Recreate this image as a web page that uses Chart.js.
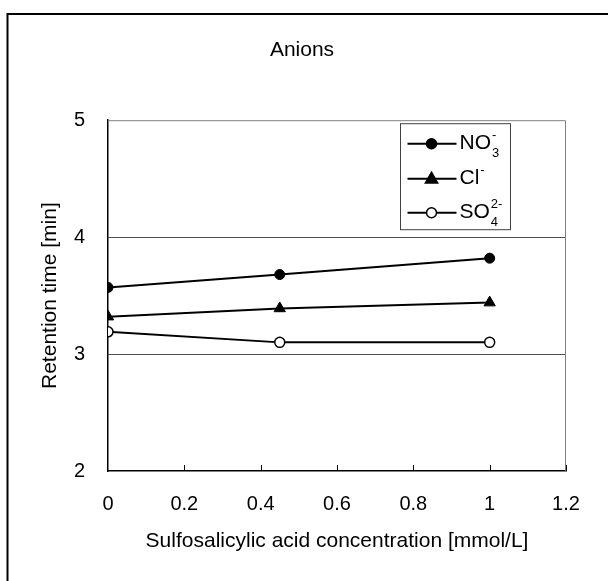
<!DOCTYPE html>
<html>
<head>
<meta charset="utf-8">
<script src="https://cdn.jsdelivr.net/npm/chart.js@4"></script>
<style>
  body { margin: 0; background: #fff; }
  #wrap { width: 608px; height: 581px; }
</style>
</head>
<body>
<div id="wrap"><canvas id="anions_chart" width="608" height="581"></canvas></div>
<script>
// data
const concentrations = [0, 0.45, 1];
const no3Values = [3.57, 3.68, 3.82];
const clValues = [3.32, 3.39, 3.44];
const so4Values = [3.19, 3.10, 3.10];

// legend text pieces: base, subscript, superscript
const legendBase = ['NO', 'Cl', 'SO'];
const legendSub = ['3', '', '4'];
const legendSup = ['-', '-', '2-'];

const FONT = 'Arial, "Liberation Sans", sans-serif';

function toPoints(values) {
    return concentrations.map((x, i) => ({x: x, y: values[i]}));
}

// outer frame, plot box and inner x ticks
const framePlugin = {
    id: 'frame',
    beforeDraw(chart) {
        const ctx = chart.ctx;
        ctx.save();
        ctx.fillStyle = '#fff';
        ctx.fillRect(0, 0, chart.width, chart.height);
        ctx.strokeStyle = '#000';
        ctx.lineWidth = 2;
        ctx.strokeRect(7.5, 14, 700, 700);
        ctx.restore();
    },
    beforeDatasetsDraw(chart) {
        const ctx = chart.ctx;
        const a = chart.chartArea;
        ctx.save();
        ctx.strokeStyle = '#808080';
        ctx.lineWidth = 1;
        ctx.beginPath();
        ctx.moveTo(a.left, a.top + 0.5);
        ctx.lineTo(a.right - 0.5, a.top + 0.5);
        ctx.lineTo(a.right - 0.5, a.bottom);
        ctx.stroke();
        // small ticks pointing into the plot
        const xs = chart.scales.x;
        ctx.strokeStyle = '#000';
        xs.ticks.forEach(t => {
            if (t.value === 0) return;
            const px = Math.round(xs.getPixelForValue(t.value)) + 0.5;
            ctx.beginPath();
            ctx.moveTo(px, a.bottom);
            ctx.lineTo(px, a.bottom - 6);
            ctx.stroke();
        });
        ctx.restore();
    }
};

function drawMarker(ctx, style, x, y, fill) {
    ctx.save();
    ctx.fillStyle = fill;
    ctx.strokeStyle = '#000';
    ctx.lineWidth = 1.5;
    ctx.beginPath();
    if (style === 'triangle') {
        const r = 6.5;
        ctx.moveTo(x, y - r);
        ctx.lineTo(x + r * 0.95, y + r * 0.65);
        ctx.lineTo(x - r * 0.95, y + r * 0.65);
        ctx.closePath();
    } else {
        ctx.arc(x, y, 5, 0, Math.PI * 2);
    }
    ctx.fill();
    ctx.stroke();
    ctx.restore();
}

// legend drawn by hand because of sub/superscripts
const legendPlugin = {
    id: 'chemLegend',
    afterDraw(chart) {
        const ctx = chart.ctx;
        const a = chart.chartArea;
        const bx = a.right - 165.5, by = a.top + 3.5, bw = 110, bh = 106;
        ctx.save();
        ctx.fillStyle = '#fff';
        ctx.fillRect(bx, by, bw, bh);
        ctx.strokeStyle = '#404040';
        ctx.lineWidth = 1;
        ctx.strokeRect(bx, by, bw, bh);
        const rows = [20, 55, 89];
        chart.data.datasets.forEach((ds, i) => {
            const y = by + rows[i];
            ctx.strokeStyle = '#000';
            ctx.lineWidth = 2;
            ctx.beginPath();
            ctx.moveTo(bx + 7, y);
            ctx.lineTo(bx + 56, y);
            ctx.stroke();
            drawMarker(ctx, ds.pointStyle, bx + 31, y, ds.pointBackgroundColor);
            let tx = bx + 59;
            ctx.fillStyle = '#000';
            ctx.textBaseline = 'middle';
            ctx.textAlign = 'left';
            ctx.font = '21px ' + FONT;
            ctx.fillText(legendBase[i], tx, y);
            tx += ctx.measureText(legendBase[i]).width + 1;
            ctx.font = '13px ' + FONT;
            if (legendSub[i]) ctx.fillText(legendSub[i], tx, y + 10);
            if (legendSup[i]) ctx.fillText(legendSup[i], tx, y - 8);
        });
        ctx.restore();
    }
};

const chart = new Chart(document.getElementById('anions_chart'), {
    type: 'line',
    data: {
        datasets: [{
            label: 'NO3-',
            data: toPoints(no3Values),
            borderColor: '#000',
            borderWidth: 2,
            pointStyle: 'circle',
            pointRadius: 5,
            pointBackgroundColor: '#000',
            pointBorderColor: '#000',
            pointBorderWidth: 1
        }, {
            label: 'Cl-',
            data: toPoints(clValues),
            borderColor: '#000',
            borderWidth: 2,
            pointStyle: 'triangle',
            pointRadius: 6.5,
            pointBackgroundColor: '#000',
            pointBorderColor: '#000',
            pointBorderWidth: 1
        }, {
            label: 'SO42-',
            data: toPoints(so4Values),
            borderColor: '#000',
            borderWidth: 2,
            pointStyle: 'circle',
            pointRadius: 5,
            pointBackgroundColor: '#fff',
            pointBorderColor: '#000',
            pointBorderWidth: 1.5
        }]
    },
    options: {
        responsive: false,
        animation: false,
        layout: {padding: {left: 38, top: 38, right: 42, bottom: 27}},
        plugins: {
            legend: {display: false},
            tooltip: {enabled: false},
            title: {
                display: true,
                text: 'Anions',
                color: '#000',
                font: {family: FONT, size: 21, weight: 'normal'},
                padding: {top: 0, bottom: 57}
            }
        },
        scales: {
            x: {
                type: 'linear',
                min: 0,
                max: 1.2,
                afterFit: s => { s.height = 83; },
                ticks: {stepSize: 0.2, color: '#000', padding: 21,
                        font: {family: FONT, size: 20},
                        callback: v => String(Number(v.toFixed(1)))},
                grid: {display: false, drawTicks: false},
                border: {color: '#000', width: 1.5},
                title: {display: true, text: 'Sulfosalicylic acid concentration [mmol/L]',
                        color: '#000', font: {family: FONT, size: 21}, padding: 0}
            },
            y: {
                min: 2,
                max: 5,
                afterFit: s => { s.width = 70; },
                ticks: {stepSize: 1, color: '#000', padding: 23,
                        font: {family: FONT, size: 20}},
                grid: {color: ctx => (ctx.tick && (ctx.tick.value === 3 || ctx.tick.value === 4)) ? '#505050' : 'rgba(0,0,0,0)',
                       drawTicks: false},
                border: {color: '#000', width: 1.5},
                title: {display: true, text: 'Retention time [min]',
                        color: '#000', font: {family: FONT, size: 21}, padding: 0}
            }
        }
    },
    plugins: [framePlugin, legendPlugin]
});
</script>
</body>
</html>
